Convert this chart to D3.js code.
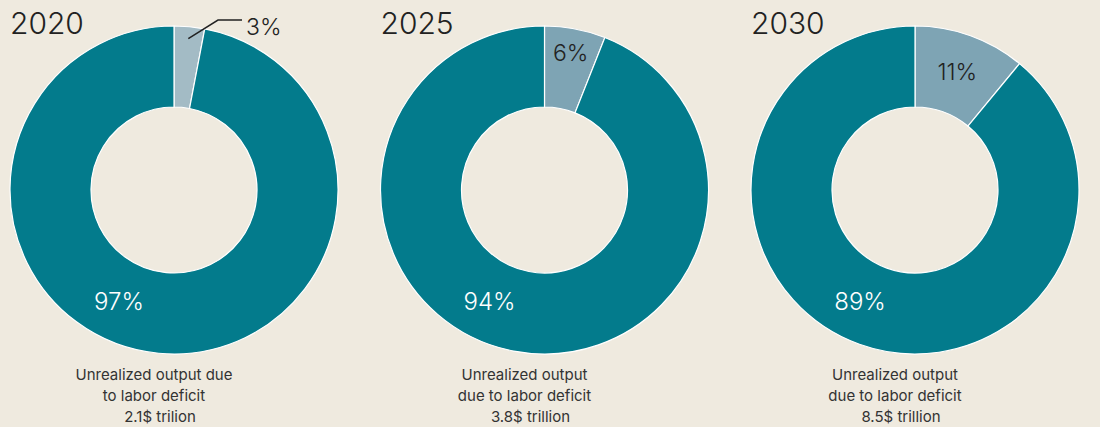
<!DOCTYPE html>
<html>
<head>
<meta charset="utf-8">
<script src="https://cdn.jsdelivr.net/npm/d3@7"></script>
<style>
  html, body { margin: 0; padding: 0; background: #efeadf; }
  svg { display: block; }
  text { font-family: Inter, "Open Sans", sans-serif; }
</style>
</head>
<body>
<div id="chart"></div>
<script>
// data
var years = ["2020", "2025", "2030"];
var deficitShare = [3, 6, 11];           // light slice, %
var otherShare = [97, 94, 89];           // teal slice, %
var captions = [
    ["Unrealized output due", "to labor deficit", "2.1$ trilion"],
    ["Unrealized output", "due to labor deficit", "3.8$ trillion"],
    ["Unrealized output", "due to labor deficit", "8.5$ trillion"]
];

var width = 1100, height = 427;
var teal = "#037b8c";
var lightColors = ["#a3bbc5", "#7ea4b4", "#7ea4b4"];

var svg = d3.select("#chart")
    .append("svg")
    .attr("width", width)
    .attr("height", height);

var x = d3.scalePoint()
    .domain(years)
    .range([174, 915]);

var outerR = 164, innerR = 83, cy = 190;

var pie = d3.pie()
    .sort(null)
    .value(function (d) { return d; });

var arc = d3.arc()
    .innerRadius(innerR)
    .outerRadius(outerR);

years.forEach(function (year, i) {
    var cx = x(year);
    var g = svg.append("g")
        .attr("transform", "translate(" + cx + "," + cy + ")");

    var slices = pie([deficitShare[i], otherShare[i]]);

    g.selectAll("path")
        .data(slices)
        .enter()
        .append("path")
        .attr("d", arc)
        .attr("fill", function (d, j) { return j === 0 ? lightColors[i] : teal; })
        .attr("stroke", "#ffffff")
        .attr("stroke-width", 1.2);

    // year title
    svg.append("text")
        .attr("x", cx - outerR)
        .attr("y", 34)
        .attr("font-size", 30)
        .attr("font-weight", 300)
        .attr("fill", "#222")
        .text(year);

    // big share label (fixed spot, lower left)
    g.append("text")
        .attr("x", -55)
        .attr("y", 112)
        .attr("dy", "0.35em")
        .attr("text-anchor", "middle")
        .attr("font-size", 24)
        .attr("font-weight", 300)
        .attr("fill", "#fff")
        .text(otherShare[i] + "%");

    // small share label
    var s = slices[0];
    var mid = (s.startAngle + s.endAngle) / 2;
    if (deficitShare[i] < 5) {
        var p0 = [Math.sin(mid) * 152, -Math.cos(mid) * 152];
        g.append("polyline")
            .attr("points", [p0, [44, -170], [68, -170]].map(function (p) { return p.join(","); }).join(" "))
            .attr("fill", "none")
            .attr("stroke", "#222")
            .attr("stroke-width", 1.5);
        g.append("text")
            .attr("x", 72)
            .attr("y", -163)
            .attr("dy", "0.35em")
            .attr("font-size", 23)
            .attr("font-weight", 300)
            .attr("fill", "#222")
            .text(deficitShare[i] + "%");
    } else {
        var r = deficitShare[i] < 8 ? 140 : 125;
        g.append("text")
            .attr("x", Math.sin(mid) * r)
            .attr("y", -Math.cos(mid) * r)
            .attr("dy", "0.35em")
            .attr("text-anchor", "middle")
            .attr("font-size", 23)
            .attr("font-weight", 300)
            .attr("fill", "#222")
            .text(deficitShare[i] + "%");
    }

    // caption under the donut
    var cap = svg.append("text")
        .attr("font-size", 15)
        .attr("fill", "#333")
        .attr("text-anchor", "middle");
    captions[i].forEach(function (line, k) {
        cap.append("tspan")
            .attr("x", cx - (k === 2 ? 14 : 20))
            .attr("y", 380 + k * 21)
            .text(line);
    });
});
</script>
</body>
</html>
